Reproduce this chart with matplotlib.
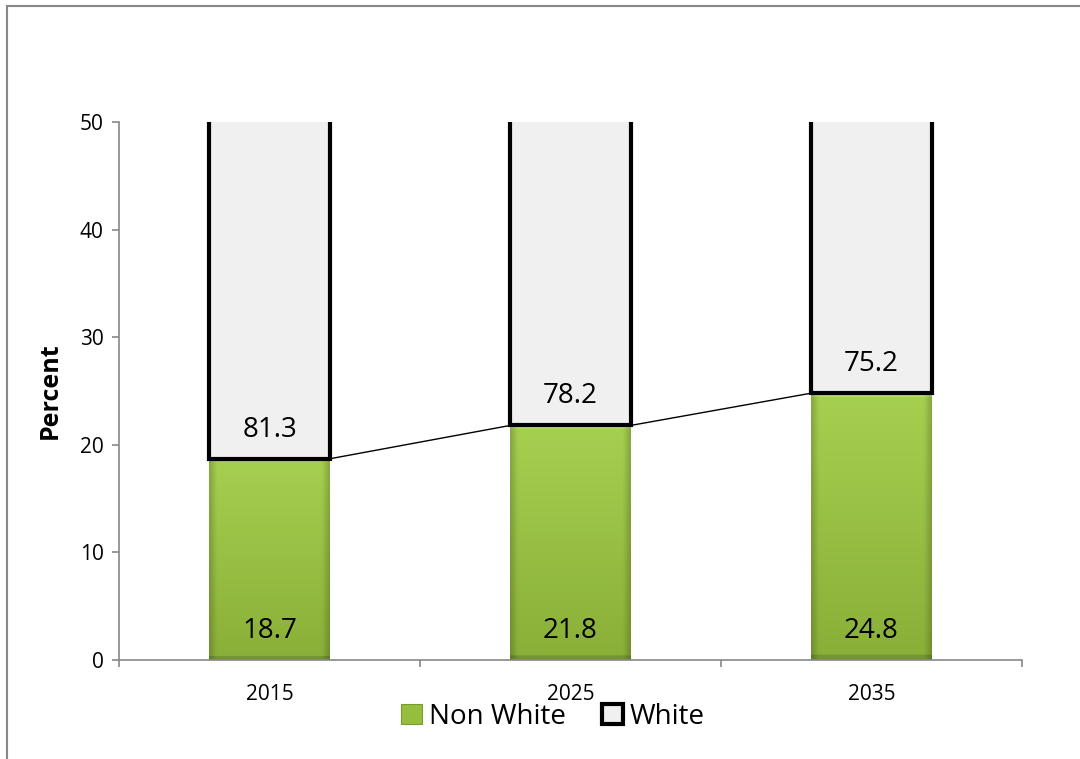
import matplotlib
matplotlib.use("Agg")
import matplotlib.pyplot as plt
import numpy as np
from matplotlib.patches import Rectangle, Patch

years = ["2015", "2025", "2035"]
non_white = [18.7, 21.8, 24.8]
white = [81.3, 78.2, 75.2]
yticks = [0, 10, 20, 30, 40, 50]

plt.rcParams['font.family'] = ['Open Sans', 'DejaVu Sans']

fig = plt.figure(figsize=(10.8, 7.59), dpi=100)
ax = fig.add_axes([119/1080, 1 - 660/759, (1022-119)/1080, (660-122)/759])

x = np.arange(len(years))
w = 0.4
green_bars = ax.bar(x, non_white, width=w, color="#95bd3e", edgecolor="none", zorder=2)
white_bars = ax.bar(x, white, width=w, bottom=non_white, color="#f0f0f0",
                    edgecolor="black", linewidth=3, zorder=3)

# bevelled gradient image for green bars
top_c = np.array([0xa6, 0xd0, 0x50]) / 255
bot_c = np.array([0x8a, 0xaf, 0x38]) / 255
ny, nx = 200, 60
t = np.linspace(0, 1, ny)[:, None, None]
base = bot_c * (1 - t) + top_c * t
base = np.broadcast_to(base, (ny, nx, 3)).copy()
xs = np.linspace(0, 1, nx)
edge = np.clip(np.minimum(xs, 1 - xs) / 0.06, 0, 1)
shade = 0.82 + 0.18 * edge
base *= shade[None, :, None]
base[:4, :, :] *= 0.85
base[-3:, :, :] = np.clip(base[-3:, :, :] * 1.08, 0, 1)
for p in green_bars:
    x0, y0 = p.get_x(), p.get_y()
    im = ax.imshow(base, aspect="auto", origin="lower", interpolation="bilinear",
                   extent=(x0, x0 + p.get_width(), y0, y0 + p.get_height()), zorder=2.5)
    im.set_clip_path(p)

# series lines between stacked tops
for i in range(len(years) - 1):
    ax.plot([x[i] + w/2, x[i+1] - w/2], [non_white[i], non_white[i+1]],
            color="black", linewidth=1, zorder=4)

# labels
for i in range(len(years)):
    ax.annotate(f"{non_white[i]}", (x[i], 0), xytext=(0, 21), textcoords="offset points",
                ha="center", va="center", fontsize=20, zorder=5)
    ax.annotate(f"{white[i]}", (x[i], non_white[i]), xytext=(0, 21), textcoords="offset points",
                ha="center", va="center", fontsize=20, zorder=5)

ax.set_xlim(-0.5, 2.5)
ax.set_ylim(0, 50)
ax.set_yticks(yticks)
ax.set_yticklabels([str(t) for t in yticks], fontsize=15)
ax.set_xticks(x)
ax.set_xticklabels(years, fontsize=15)
ax.set_xticks(np.arange(-0.5, len(years), 1), minor=True)
ax.tick_params(axis="x", which="major", length=0, pad=17)
ax.tick_params(axis="x", which="minor", length=5, color="#888888", width=1.2)
ax.tick_params(axis="y", length=5, color="#888888", width=1.2, pad=6)
for s in ["top", "right"]:
    ax.spines[s].set_visible(False)
for s in ["left", "bottom"]:
    ax.spines[s].set_color("#888888")
    ax.spines[s].set_linewidth(1.2)
ax.set_ylabel("Percent", fontsize=18, fontweight="bold", labelpad=12)

handles = [Patch(facecolor="#95bd3e", edgecolor="#7a9a30", linewidth=0.8),
           Patch(facecolor="#f0f0f0", edgecolor="black", linewidth=3)]
fig.legend(handles, ["Non White", "White"], loc="center", bbox_to_anchor=(553/1080, 1 - 717/759),
           ncol=2, frameon=False, fontsize=20, handlelength=0.75, handleheight=0.75,
           handletextpad=0.25, columnspacing=1.3)

fig.patches.append(Rectangle((7/1080, -0.1), 1.2, 1 - 6/759 + 0.1, transform=fig.transFigure,
                             fill=False, edgecolor="#888888", linewidth=1.5))

fig.savefig("out.png", dpi=100)
